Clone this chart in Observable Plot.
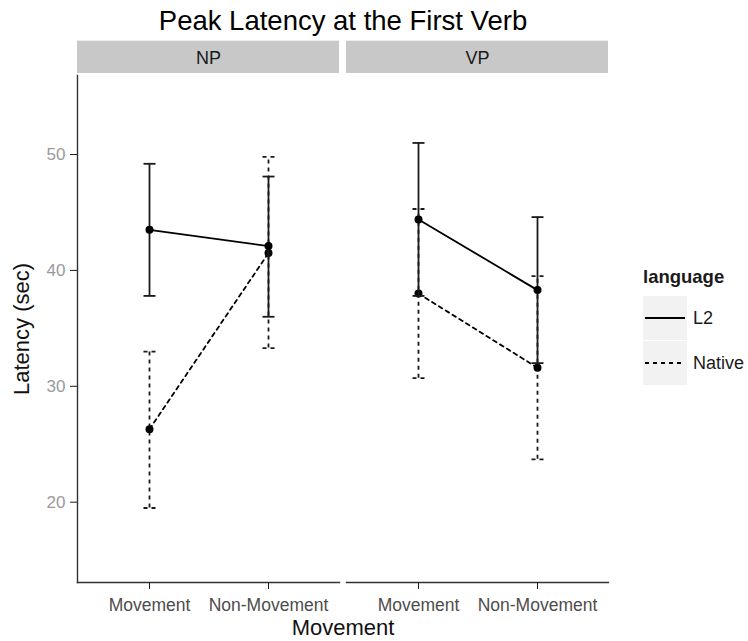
<!DOCTYPE html>
<html>
<head>
<meta charset="utf-8">
<script src="https://cdn.jsdelivr.net/npm/d3@7"></script>
<script src="https://cdn.jsdelivr.net/npm/@observablehq/plot@0.6"></script>
<style>
  html, body { margin: 0; padding: 0; background: #fff; }
  body { font-family: "Liberation Sans", Arial, Helvetica, sans-serif; }
  #wrap { position: relative; width: 748px; height: 641px; overflow: hidden; }
  #title { position: absolute; left: 77px; width: 532px; top: 0; height: 40px; text-align: center;
           font-size: 27.5px; line-height: 40px; color: #000; padding-top: 1px; }
  #chart { position: absolute; left: 0; top: 40px; }
  #legend { position: absolute; left: 630px; top: 260px; }
  #chart g[aria-label="y-axis tick label"] { fill: #9a9a9a; }
  #chart g[aria-label="y-axis tick"] { stroke: #8a8a8a; }
  #chart g[aria-label="x-axis tick label"] { fill: #4d4d4d; }
  #chart g[aria-label="x-axis tick"] { stroke: #8a8a8a; }
  #chart g[aria-label="y-axis label"], #chart g[aria-label="x-axis label"] { font-size: 22px; fill: #111; }
</style>
</head>
<body>
<div id="wrap">
  <div id="title">Peak Latency at the First Verb</div>
  <div id="chart"></div>
  <div id="legend"></div>
</div>
<script>
// ---- data ----
const panels = ["NP", "VP"];
const movements = ["Movement", "Non-Movement"];
const languages = ["L2", "Native"];
// cells: NP/Movement, NP/Non-Movement, VP/Movement, VP/Non-Movement
const cellPanel = ["NP", "NP", "VP", "VP"];
const cellMovement = ["Movement", "Non-Movement", "Movement", "Non-Movement"];
const l2Mean = [43.5, 42.1, 44.4, 38.3];
const l2Lower = [37.8, 36.0, 37.8, 32.0];
const l2Upper = [49.2, 48.1, 51.0, 44.6];
const nativeMean = [26.3, 41.5, 38.0, 31.6];
const nativeLower = [19.5, 33.3, 30.7, 23.7];
const nativeUpper = [33.0, 49.8, 45.3, 39.5];
const yTicks = [20, 30, 40, 50];
const yDomain = [13.07, 56.82];

const seriesMean = {L2: l2Mean, Native: nativeMean};
const seriesLower = {L2: l2Lower, Native: nativeLower};
const seriesUpper = {L2: l2Upper, Native: nativeUpper};
const rows = languages.flatMap(lang => cellPanel.map((p, i) => ({
  language: lang, panel: p, move: cellMovement[i],
  mean: seriesMean[lang][i], lower: seriesLower[lang][i], upper: seriesUpper[lang][i]
})));
const l2 = rows.filter(d => d.language === "L2");
const nat = rows.filter(d => d.language === "Native");

const dashes = {L2: null, Native: "4,4"};
const capSymbol = {draw(ctx) { ctx.moveTo(-6, 0); ctx.lineTo(6, 0); }};

const W = 610, H = 601, MT = 35, MB = 59, ML = 77, MR = 1;
const frameH = H - MT - MB;

function seriesMarks(data, lang) {
  const da = dashes[lang];
  return [
    Plot.ruleX(data, {fx: "panel", x: "move", y1: "lower", y2: "upper", stroke: "#1a1a1a", strokeWidth: 1.8, strokeDasharray: da}),
    Plot.dot(data, {fx: "panel", x: "move", y: "upper", symbol: capSymbol, r: 3, fill: "none", stroke: "#1a1a1a", strokeWidth: 1.8, strokeDasharray: da}),
    Plot.dot(data, {fx: "panel", x: "move", y: "lower", symbol: capSymbol, r: 3, fill: "none", stroke: "#1a1a1a", strokeWidth: 1.8, strokeDasharray: da}),
    Plot.line(data, {fx: "panel", x: "move", y: "mean", stroke: "#000", strokeWidth: 1.8, strokeDasharray: da}),
    Plot.dot(data, {fx: "panel", x: "move", y: "mean", r: 4, fill: "#000", stroke: "none"})
  ];
}

const chart = Plot.plot({
  width: W, height: H,
  marginTop: MT, marginBottom: MB, marginLeft: ML, marginRight: MR,
  style: {fontFamily: "'Liberation Sans', Arial, Helvetica, sans-serif", fontSize: "18px", color: "#1a1a1a", background: "white", overflow: "visible"},
  fx: {domain: panels, axis: null, paddingInner: 0.026, paddingOuter: 0},
  x: {type: "point", domain: movements, padding: 0.6},
  y: {domain: yDomain},
  marks: [
    Plot.rect(panels, {fx: d => d, fill: "#c8c8c8", insetTop: -(MT - 0.7), insetBottom: frameH + 2}),
    Plot.text(panels, {fx: d => d, text: d => d, frameAnchor: "top", dy: -17, lineAnchor: "middle", fontSize: 18, fill: "#1a1a1a"}),
    Plot.frame({anchor: "left", facetAnchor: "left", stroke: "#333", strokeWidth: 1.4}),
    Plot.frame({anchor: "bottom", stroke: "#333", strokeWidth: 1.4}),
    Plot.axisY({ticks: yTicks, tickSize: 7, tickPadding: 5, fontSize: 17, label: "Latency (sec)", labelAnchor: "center", labelOffset: 64, labelArrow: "none"}),
    Plot.axisX({tickSize: 7, tickPadding: 9, fontSize: 17.5, label: "Movement", labelAnchor: "center", labelOffset: 52, labelArrow: "none"}),
    ...seriesMarks(nat, "Native"),
    ...seriesMarks(l2, "L2")
  ]
});
document.getElementById("chart").appendChild(chart);

// ---- legend ----
const ns = "http://www.w3.org/2000/svg";
const lg = document.createElementNS(ns, "svg");
lg.setAttribute("width", 118); lg.setAttribute("height", 140);
lg.style.fontFamily = "'Liberation Sans', Arial, Helvetica, sans-serif";
function el(tag, attrs, txt) {
  const e = document.createElementNS(ns, tag);
  for (const k in attrs) e.setAttribute(k, attrs[k]);
  if (txt != null) e.textContent = txt;
  lg.appendChild(e);
  return e;
}
el("text", {x: 13, y: 23, "font-size": 18.5, "font-weight": "bold", fill: "#1a1a1a"}, "language");
languages.forEach((lang, i) => {
  const top = 36 + i * 45;
  el("rect", {x: 13, y: top, width: 44, height: 44, fill: "#f2f2f2"});
  const line = el("line", {x1: 15, x2: 55, y1: top + 22, y2: top + 22, stroke: "#000", "stroke-width": 2});
  if (dashes[lang]) line.setAttribute("stroke-dasharray", dashes[lang]);
  el("text", {x: 63, y: top + 28, "font-size": 18, fill: "#1a1a1a"}, lang);
});
document.getElementById("legend").appendChild(lg);
</script>
</body>
</html>
